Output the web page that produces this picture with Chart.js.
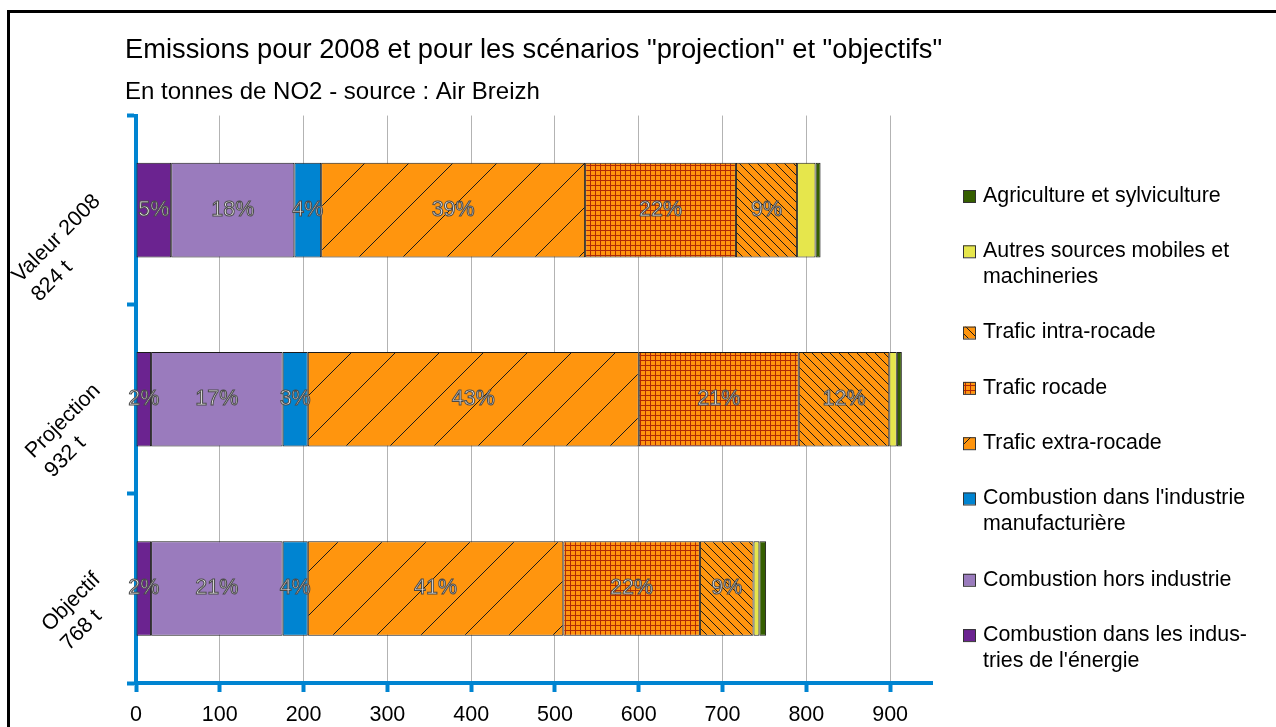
<!DOCTYPE html>
<html>
<head>
<meta charset="utf-8">
<script src="https://cdn.jsdelivr.net/npm/chart.js@4.4.1/dist/chart.umd.min.js"></script>
<style>
  html, body { margin: 0; padding: 0; background: #fff; }
  canvas { display: block; }
</style>
</head>
<body>
<canvas id="emissionsChart" width="1276" height="727"></canvas>
<script>
// categories (two-line labels) and series, in tonnes of NO2
const categories = [['Valeur 2008', '824 t'], ['Projection', '932 t'], ['Objectif', '768 t']];

const energie        = [42, 18, 18];
const horsIndustrie  = [147, 157, 157];
const manufacturiere = [32, 30, 30];
const extraRocade    = [315, 395, 305];
const rocade         = [180, 191, 163];
const intraRocade    = [73, 108, 64];
const autresMobiles  = [22, 9, 7];
const agriculture    = [6, 6, 8];

// percentages printed on the bars
const pctEnergie  = [5, 2, 2];
const pctHors     = [18, 17, 21];
const pctManuf    = [4, 3, 4];
const pctExtra    = [39, 43, 41];
const pctRocade   = [22, 21, 22];
const pctIntra    = [9, 12, 9];

const xMax = 950;
const xStep = 100;

const titleText = 'Emissions pour 2008 et pour les scénarios "projection" et "objectifs"';
const subtitleText = 'En tonnes de NO2 - source : Air Breizh';

const FONT = "'Liberation Sans', Arial, sans-serif";
const axisBlue = '#0084d1';
const orange = '#ff950e';

const canvas = document.getElementById('emissionsChart');
const mainCtx = canvas.getContext('2d');

function makePattern(size, draw) {
    const c = document.createElement('canvas');
    c.width = size;
    c.height = size;
    const g = c.getContext('2d');
    g.fillStyle = orange;
    g.fillRect(0, 0, size, size);
    draw(g, size);
    return mainCtx.createPattern(c, 'repeat');
}

// "/" wide hatch
const extraPattern = makePattern(44, (g, s) => {
    g.strokeStyle = '#1a1a1a';
    g.lineWidth = 1;
    for (const k of [0, 1, 2]) {
        g.beginPath();
        g.moveTo(-2, k * s + 2);
        g.lineTo(k * s + 2, -2);
        g.stroke();
    }
});

// fine grid
const rocadePattern = makePattern(5, (g, s) => {
    g.fillStyle = '#b02a06';
    g.fillRect(0, 0, s, 1);
    g.fillRect(0, 0, 1, s);
});

// "\" dense hatch
const intraPattern = makePattern(9, (g, s) => {
    g.strokeStyle = '#1a1a1a';
    g.lineWidth = 1;
    for (const k of [-1, 0, 1]) {
        g.beginPath();
        g.moveTo(-2, -2 + k * s);
        g.lineTo(s + 2, s + 2 + k * s);
        g.stroke();
    }
});

const series = [
    { label: ['Combustion dans les indus-', "tries de l'énergie"], data: energie, pct: pctEnergie, fill: '#6b2390' },
    { label: ['Combustion hors industrie'], data: horsIndustrie, pct: pctHors, fill: '#9a7bbd' },
    { label: ["Combustion dans l'industrie", 'manufacturière'], data: manufacturiere, pct: pctManuf, fill: '#0084d1' },
    { label: ['Trafic extra-rocade'], data: extraRocade, pct: pctExtra, fill: extraPattern },
    { label: ['Trafic rocade'], data: rocade, pct: pctRocade, fill: rocadePattern },
    { label: ['Trafic intra-rocade'], data: intraRocade, pct: pctIntra, fill: intraPattern },
    { label: ['Autres sources mobiles et', 'machineries'], data: autresMobiles, pct: null, fill: '#e6e64c' },
    { label: ['Agriculture et sylviculture'], data: agriculture, pct: null, fill: '#355e00' }
];

const framePlugin = {
    id: 'frame',
    beforeDraw(chart) {
        const ctx = chart.ctx;
        ctx.save();
        ctx.fillStyle = '#fff';
        ctx.fillRect(0, 0, chart.width, chart.height);
        ctx.strokeStyle = '#000';
        ctx.lineWidth = 3;
        ctx.strokeRect(8.5, 11.5, chart.width + 20, chart.height + 20);
        ctx.restore();
    }
};

const barLabelsPlugin = {
    id: 'barLabels',
    afterDatasetsDraw(chart) {
        const ctx = chart.ctx;
        ctx.save();
        ctx.font = '21.5px ' + FONT;
        ctx.textAlign = 'center';
        ctx.textBaseline = 'middle';
        ctx.lineWidth = 1;
        chart.data.datasets.forEach((ds, i) => {
            if (!ds.pct) return;
            chart.getDatasetMeta(i).data.forEach((bar, j) => {
                const txt = ds.pct[j] + '%';
                const x = (bar.x + bar.base) / 2;
                ctx.fillStyle = '#ececec';
                ctx.fillText(txt, x, bar.y);
                ctx.strokeStyle = '#4a4a4a';
                ctx.strokeText(txt, x, bar.y);
            });
        });
        ctx.restore();
    }
};

const categoryLabelsPlugin = {
    id: 'categoryLabels',
    afterDraw(chart) {
        const ctx = chart.ctx;
        const yScale = chart.scales.y;
        ctx.save();
        ctx.font = '21.5px ' + FONT;
        ctx.fillStyle = '#000';
        ctx.textBaseline = 'middle';
        categories.forEach((lines, i) => {
            const cy = yScale.getPixelForValue(i);
            ctx.save();
            ctx.translate(97, cy - 12);
            ctx.rotate(-Math.PI / 4);
            const w1 = ctx.measureText(lines[0]).width;
            ctx.textAlign = 'right';
            ctx.fillText(lines[0], 0, 0);
            ctx.textAlign = 'left';
            ctx.fillText(lines[1], -w1, 27);
            ctx.restore();
        });
        ctx.restore();
    }
};

const sideLegendPlugin = {
    id: 'sideLegend',
    afterDraw(chart) {
        const ctx = chart.ctx;
        ctx.save();
        ctx.font = '21.4px ' + FONT;
        ctx.textBaseline = 'middle';
        ctx.textAlign = 'left';
        let y = 196;
        const items = chart.data.datasets.slice().reverse();
        items.forEach(ds => {
            ctx.fillStyle = ds.backgroundColor;
            ctx.fillRect(963, y - 6, 12, 12);
            ctx.strokeStyle = '#333';
            ctx.lineWidth = 1;
            ctx.strokeRect(963.5, y - 5.5, 12, 12);
            ctx.fillStyle = '#000';
            ds.label.forEach((line, k) => ctx.fillText(line, 983, y + k * 26));
            y += (ds.label.length - 1) * 26 + 55.3;
        });
        ctx.restore();
    }
};

new Chart(canvas, {
    type: 'bar',
    data: {
        labels: categories,
        datasets: series.map(s => ({
            label: s.label,
            data: s.data,
            pct: s.pct,
            backgroundColor: s.fill,
            borderColor: '#1a1a1a',
            borderWidth: 1,
            borderSkipped: false,
            barPercentage: 0.5,
            categoryPercentage: 1,
            xAxisID: 'x',
            yAxisID: 'y'
        }))
    },
    options: {
        indexAxis: 'y',
        responsive: false,
        animation: false,
        devicePixelRatio: 1,
        layout: { padding: { left: 125, right: 0, top: 0, bottom: 0 } },
        plugins: {
            legend: { display: false },
            tooltip: { enabled: false },
            title: {
                display: true,
                text: titleText,
                align: 'start',
                color: '#000',
                font: { family: FONT, size: 27.3, weight: 'normal', lineHeight: 1.2 },
                padding: { top: 34, bottom: 0 }
            },
            subtitle: {
                display: true,
                text: subtitleText,
                align: 'start',
                color: '#000',
                font: { family: FONT, size: 24, weight: 'normal', lineHeight: 1.2 },
                padding: { top: 11, bottom: 9 }
            }
        },
        scales: {
            x: {
                stacked: true,
                min: 0,
                max: xMax,
                position: 'bottom',
                ticks: {
                    stepSize: xStep,
                    includeBounds: false,
                    color: '#000',
                    font: { family: FONT, size: 21.5 },
                    padding: 10
                },
                grid: { color: '#b3b3b3', lineWidth: 1, tickColor: axisBlue, tickWidth: 4, tickLength: 9 },
                border: { color: axisBlue, width: 4 },
                afterFit: s => { s.height = 44; }
            },
            y: {
                stacked: true,
                ticks: { display: false },
                grid: { drawOnChartArea: false, offset: true, tickColor: axisBlue, tickWidth: 4, tickLength: 9 },
                border: { color: axisBlue, width: 4 },
                afterFit: s => { s.width = 11; }
            },
            side: {
                type: 'linear',
                position: 'right',
                ticks: { display: false },
                grid: { display: false },
                border: { display: false },
                afterFit: s => { s.width = 344; }
            }
        }
    },
    plugins: [framePlugin, barLabelsPlugin, categoryLabelsPlugin, sideLegendPlugin]
});
</script>
</body>
</html>
